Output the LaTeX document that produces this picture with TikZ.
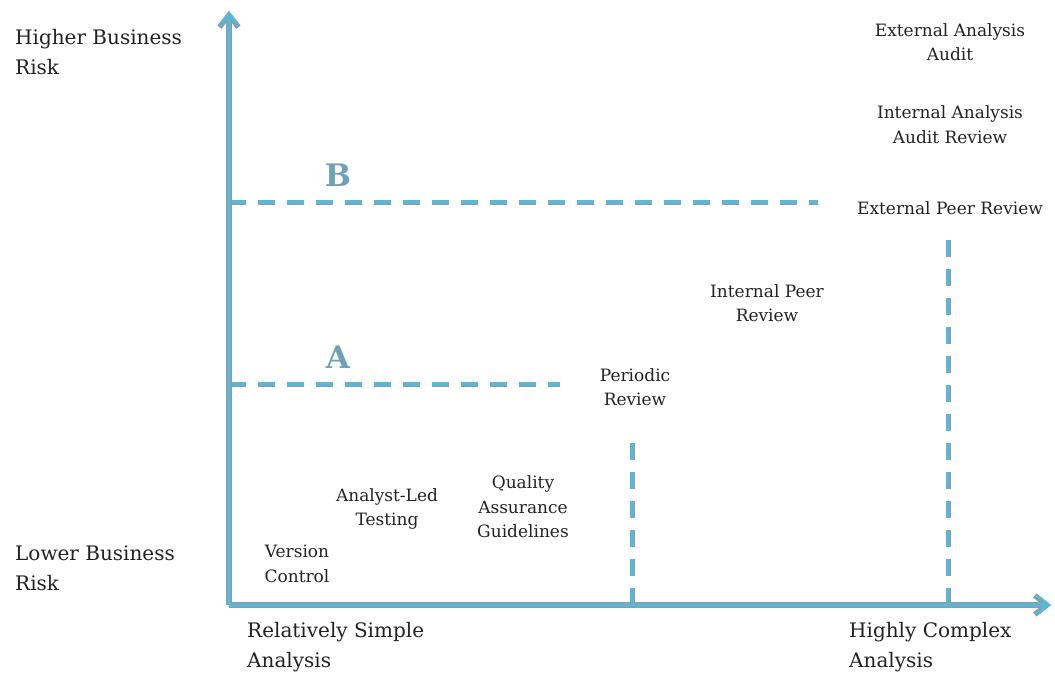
\documentclass[tikz,border=0pt]{standalone}
\usepackage{fontspec}
\setmainfont{DejaVu Serif}
\usetikzlibrary{arrows.meta}
\definecolor{axisblue}{HTML}{5DB6D4}
\definecolor{axisgray}{HTML}{8C9CA2}
\definecolor{txt}{HTML}{222222}
\definecolor{lettr}{HTML}{6FA2B8}
\tikzset{
  axisunder/.style={draw=axisgray, line width=5.2pt},
  axisover/.style={draw=axisblue, line width=3.4pt},
  dashunder/.style={draw=axisgray, line width=5pt, dash pattern=on 17pt off 12pt},
  dashover/.style={draw=axisblue, line width=3.4pt, dash pattern=on 17pt off 12pt},
  biglabel/.style={text=txt, font=\fontsize{20}{30}\selectfont, align=left, inner sep=0pt},
  item/.style={text=txt, font=\fontsize{17}{24.5}\selectfont, align=center, inner sep=0pt},
  zone/.style={text=lettr, font=\fontsize{31}{34}\selectfont\bfseries, inner sep=0pt},
  tip/.style={-{Straight Barb[length=12pt,width=19pt]}}
}
\begin{document}
\begin{tikzpicture}[x=1pt,y=-1pt]
\useasboundingbox (0,0) rectangle (1055,674);
% axes
\coordinate (o) at (229,605);
\coordinate (ytop) at (229,11);
\coordinate (xend) at (1051,605);
% dashed lines
\coordinate (b0) at (229,202);
\coordinate (b1) at (818,202);
\coordinate (a0) at (229,384);
\coordinate (a1) at (560,384);
\coordinate (p0) at (632,605);
\coordinate (p1) at (632,441);
\coordinate (e0) at (948,605);
\coordinate (e1) at (948,239);
\foreach \s/\t in {b0/b1,a0/a1,p0/p1,e0/e1}{
  \draw[dashunder] (\s) -- (\t);
}
\foreach \s/\t in {b0/b1,a0/a1,p0/p1,e0/e1}{
  \draw[dashover] (\s) -- (\t);
}
\draw[axisunder, tip] (o) -- (ytop);
\draw[axisunder, tip] (o) -- (xend);
\draw[axisover, tip] (o) -- (ytop);
\draw[axisover, tip] (o) -- (xend);
% axis labels
\node[biglabel, anchor=west] (hbr) at (15,52) {Higher Business\\Risk};
\node[biglabel, anchor=west] (lbr) at (15,568) {Lower Business\\Risk};
\node[biglabel, anchor=west] (rsa) at (247,647) {Relatively Simple\\Analysis};
\node[biglabel, anchor=west] (hca) at (849,647) {Highly Complex\\Analysis};
% zones
\node[zone] (B) at (338,175) {B};
\node[zone] (A) at (338,357) {A};
% items
\node[item] (eaa) at (950,42) {External Analysis\\Audit};
\node[item] (iaa) at (950,124.5) {Internal Analysis\\Audit Review};
\node[item] (epr) at (950,208) {External Peer Review};
\node[item] (ipr) at (767,303) {Internal Peer\\Review};
\node[item] (pr) at (635,387) {Periodic\\Review};
\node[item] (qag) at (523,507) {Quality\\Assurance\\Guidelines};
\node[item] (alt) at (387,509) {Analyst-Led\\Testing};
\node[item] (vc) at (297,564) {Version\\Control};
\end{tikzpicture}
\end{document}
